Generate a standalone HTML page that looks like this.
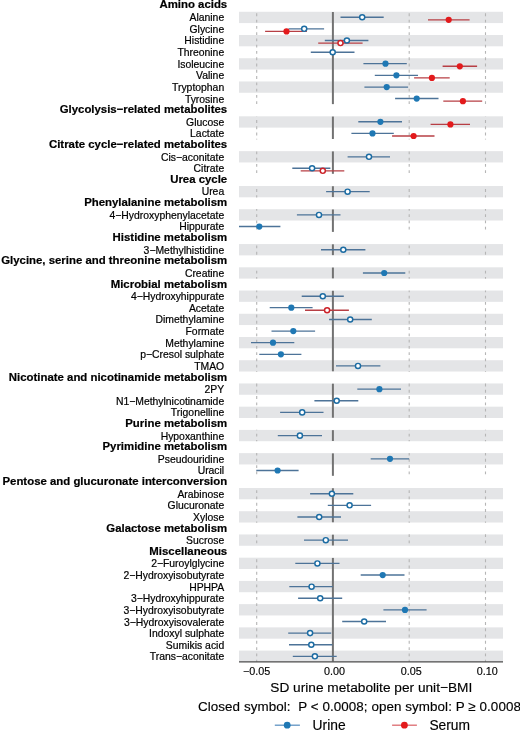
<!DOCTYPE html>
<html><head><meta charset="utf-8"><title>Forest plot</title>
<style>
html,body{margin:0;padding:0;background:#fff;}
svg{display:block;will-change:transform;}
text{font-family:"Liberation Sans",sans-serif;fill:#000;stroke:#000;stroke-width:0.15px;}
.l{font-size:10.4px;text-anchor:end;stroke:#000;stroke-width:0.2px;}
.h{font-size:11.4px;font-weight:bold;text-anchor:end;stroke:#000;stroke-width:0.2px;}
.t{font-size:10.8px;text-anchor:middle;}
.ti{font-size:13.7px;text-anchor:middle;}
.c{font-size:13.4px;letter-spacing:0.075px;}
.lg{font-size:13.8px;}
</style></head>
<body>
<svg width="520" height="730" viewBox="0 0 520 730">
<rect width="520" height="730" fill="#fff"/>
<rect x="239.0" y="11.77" width="264.0" height="11.3" fill="#e4e5e7"/>
<rect x="239.0" y="35.00" width="264.0" height="11.3" fill="#e4e5e7"/>
<rect x="239.0" y="58.23" width="264.0" height="11.3" fill="#e4e5e7"/>
<rect x="239.0" y="81.46" width="264.0" height="11.3" fill="#e4e5e7"/>
<rect x="239.0" y="116.31" width="264.0" height="11.3" fill="#e4e5e7"/>
<rect x="239.0" y="151.15" width="264.0" height="11.3" fill="#e4e5e7"/>
<rect x="239.0" y="186.00" width="264.0" height="11.3" fill="#e4e5e7"/>
<rect x="239.0" y="209.23" width="264.0" height="11.3" fill="#e4e5e7"/>
<rect x="239.0" y="244.07" width="264.0" height="11.3" fill="#e4e5e7"/>
<rect x="239.0" y="267.30" width="264.0" height="11.3" fill="#e4e5e7"/>
<rect x="239.0" y="290.53" width="264.0" height="11.3" fill="#e4e5e7"/>
<rect x="239.0" y="313.76" width="264.0" height="11.3" fill="#e4e5e7"/>
<rect x="239.0" y="336.99" width="264.0" height="11.3" fill="#e4e5e7"/>
<rect x="239.0" y="360.22" width="264.0" height="11.3" fill="#e4e5e7"/>
<rect x="239.0" y="383.45" width="264.0" height="11.3" fill="#e4e5e7"/>
<rect x="239.0" y="406.68" width="264.0" height="11.3" fill="#e4e5e7"/>
<rect x="239.0" y="429.91" width="264.0" height="11.3" fill="#e4e5e7"/>
<rect x="239.0" y="453.14" width="264.0" height="11.3" fill="#e4e5e7"/>
<rect x="239.0" y="487.99" width="264.0" height="11.3" fill="#e4e5e7"/>
<rect x="239.0" y="511.22" width="264.0" height="11.3" fill="#e4e5e7"/>
<rect x="239.0" y="534.45" width="264.0" height="11.3" fill="#e4e5e7"/>
<rect x="239.0" y="557.68" width="264.0" height="11.3" fill="#e4e5e7"/>
<rect x="239.0" y="580.91" width="264.0" height="11.3" fill="#e4e5e7"/>
<rect x="239.0" y="604.14" width="264.0" height="11.3" fill="#e4e5e7"/>
<rect x="239.0" y="627.37" width="264.0" height="11.3" fill="#e4e5e7"/>
<rect x="239.0" y="650.60" width="264.0" height="11.3" fill="#e4e5e7"/>
<line x1="256.7" y1="11.62" x2="256.7" y2="104.53" stroke="#b5b5b5" stroke-width="1.1" stroke-dasharray="2.85 3.425" stroke-dashoffset="10.81"/>
<line x1="409.2" y1="11.62" x2="409.2" y2="104.53" stroke="#b5b5b5" stroke-width="1.1" stroke-dasharray="2.85 3.425" stroke-dashoffset="10.81"/>
<line x1="485.5" y1="11.62" x2="485.5" y2="104.53" stroke="#b5b5b5" stroke-width="1.1" stroke-dasharray="2.85 3.425" stroke-dashoffset="10.81"/>
<line x1="332.9" y1="12.02" x2="332.9" y2="104.13" stroke="#727272" stroke-width="2.0"/>
<line x1="256.7" y1="116.15" x2="256.7" y2="139.38" stroke="#b5b5b5" stroke-width="1.1" stroke-dasharray="2.85 3.425" stroke-dashoffset="115.35"/>
<line x1="409.2" y1="116.15" x2="409.2" y2="139.38" stroke="#b5b5b5" stroke-width="1.1" stroke-dasharray="2.85 3.425" stroke-dashoffset="115.35"/>
<line x1="485.5" y1="116.15" x2="485.5" y2="139.38" stroke="#b5b5b5" stroke-width="1.1" stroke-dasharray="2.85 3.425" stroke-dashoffset="115.35"/>
<line x1="332.9" y1="116.55" x2="332.9" y2="138.98" stroke="#727272" stroke-width="2.0"/>
<line x1="256.7" y1="151.00" x2="256.7" y2="174.22" stroke="#b5b5b5" stroke-width="1.1" stroke-dasharray="2.85 3.425" stroke-dashoffset="150.19"/>
<line x1="409.2" y1="151.00" x2="409.2" y2="174.22" stroke="#b5b5b5" stroke-width="1.1" stroke-dasharray="2.85 3.425" stroke-dashoffset="150.19"/>
<line x1="485.5" y1="151.00" x2="485.5" y2="174.22" stroke="#b5b5b5" stroke-width="1.1" stroke-dasharray="2.85 3.425" stroke-dashoffset="150.19"/>
<line x1="332.9" y1="151.40" x2="332.9" y2="173.82" stroke="#727272" stroke-width="2.0"/>
<line x1="256.7" y1="185.84" x2="256.7" y2="197.46" stroke="#b5b5b5" stroke-width="1.1" stroke-dasharray="2.85 3.425" stroke-dashoffset="185.04"/>
<line x1="409.2" y1="185.84" x2="409.2" y2="197.46" stroke="#b5b5b5" stroke-width="1.1" stroke-dasharray="2.85 3.425" stroke-dashoffset="185.04"/>
<line x1="485.5" y1="185.84" x2="485.5" y2="197.46" stroke="#b5b5b5" stroke-width="1.1" stroke-dasharray="2.85 3.425" stroke-dashoffset="185.04"/>
<line x1="332.9" y1="186.24" x2="332.9" y2="197.06" stroke="#727272" stroke-width="2.0"/>
<line x1="256.7" y1="209.07" x2="256.7" y2="232.30" stroke="#b5b5b5" stroke-width="1.1" stroke-dasharray="2.85 3.425" stroke-dashoffset="208.27"/>
<line x1="409.2" y1="209.07" x2="409.2" y2="232.30" stroke="#b5b5b5" stroke-width="1.1" stroke-dasharray="2.85 3.425" stroke-dashoffset="208.27"/>
<line x1="485.5" y1="209.07" x2="485.5" y2="232.30" stroke="#b5b5b5" stroke-width="1.1" stroke-dasharray="2.85 3.425" stroke-dashoffset="208.27"/>
<line x1="332.9" y1="209.47" x2="332.9" y2="231.90" stroke="#727272" stroke-width="2.0"/>
<line x1="256.7" y1="243.91" x2="256.7" y2="255.53" stroke="#b5b5b5" stroke-width="1.1" stroke-dasharray="2.85 3.425" stroke-dashoffset="243.11"/>
<line x1="409.2" y1="243.91" x2="409.2" y2="255.53" stroke="#b5b5b5" stroke-width="1.1" stroke-dasharray="2.85 3.425" stroke-dashoffset="243.11"/>
<line x1="485.5" y1="243.91" x2="485.5" y2="255.53" stroke="#b5b5b5" stroke-width="1.1" stroke-dasharray="2.85 3.425" stroke-dashoffset="243.11"/>
<line x1="332.9" y1="244.31" x2="332.9" y2="255.13" stroke="#727272" stroke-width="2.0"/>
<line x1="256.7" y1="267.14" x2="256.7" y2="278.76" stroke="#b5b5b5" stroke-width="1.1" stroke-dasharray="2.85 3.425" stroke-dashoffset="266.34"/>
<line x1="409.2" y1="267.14" x2="409.2" y2="278.76" stroke="#b5b5b5" stroke-width="1.1" stroke-dasharray="2.85 3.425" stroke-dashoffset="266.34"/>
<line x1="485.5" y1="267.14" x2="485.5" y2="278.76" stroke="#b5b5b5" stroke-width="1.1" stroke-dasharray="2.85 3.425" stroke-dashoffset="266.34"/>
<line x1="332.9" y1="267.54" x2="332.9" y2="278.36" stroke="#727272" stroke-width="2.0"/>
<line x1="256.7" y1="290.38" x2="256.7" y2="371.68" stroke="#b5b5b5" stroke-width="1.1" stroke-dasharray="2.85 3.425" stroke-dashoffset="289.57"/>
<line x1="409.2" y1="290.38" x2="409.2" y2="371.68" stroke="#b5b5b5" stroke-width="1.1" stroke-dasharray="2.85 3.425" stroke-dashoffset="289.57"/>
<line x1="485.5" y1="290.38" x2="485.5" y2="371.68" stroke="#b5b5b5" stroke-width="1.1" stroke-dasharray="2.85 3.425" stroke-dashoffset="289.57"/>
<line x1="332.9" y1="290.77" x2="332.9" y2="371.28" stroke="#727272" stroke-width="2.0"/>
<line x1="256.7" y1="383.30" x2="256.7" y2="418.14" stroke="#b5b5b5" stroke-width="1.1" stroke-dasharray="2.85 3.425" stroke-dashoffset="382.50"/>
<line x1="409.2" y1="383.30" x2="409.2" y2="418.14" stroke="#b5b5b5" stroke-width="1.1" stroke-dasharray="2.85 3.425" stroke-dashoffset="382.50"/>
<line x1="485.5" y1="383.30" x2="485.5" y2="418.14" stroke="#b5b5b5" stroke-width="1.1" stroke-dasharray="2.85 3.425" stroke-dashoffset="382.50"/>
<line x1="332.9" y1="383.69" x2="332.9" y2="417.74" stroke="#727272" stroke-width="2.0"/>
<line x1="256.7" y1="429.75" x2="256.7" y2="441.37" stroke="#b5b5b5" stroke-width="1.1" stroke-dasharray="2.85 3.425" stroke-dashoffset="428.95"/>
<line x1="409.2" y1="429.75" x2="409.2" y2="441.37" stroke="#b5b5b5" stroke-width="1.1" stroke-dasharray="2.85 3.425" stroke-dashoffset="428.95"/>
<line x1="485.5" y1="429.75" x2="485.5" y2="441.37" stroke="#b5b5b5" stroke-width="1.1" stroke-dasharray="2.85 3.425" stroke-dashoffset="428.95"/>
<line x1="332.9" y1="430.15" x2="332.9" y2="440.97" stroke="#727272" stroke-width="2.0"/>
<line x1="256.7" y1="452.99" x2="256.7" y2="476.22" stroke="#b5b5b5" stroke-width="1.1" stroke-dasharray="2.85 3.425" stroke-dashoffset="452.19"/>
<line x1="409.2" y1="452.99" x2="409.2" y2="476.22" stroke="#b5b5b5" stroke-width="1.1" stroke-dasharray="2.85 3.425" stroke-dashoffset="452.19"/>
<line x1="485.5" y1="452.99" x2="485.5" y2="476.22" stroke="#b5b5b5" stroke-width="1.1" stroke-dasharray="2.85 3.425" stroke-dashoffset="452.19"/>
<line x1="332.9" y1="453.38" x2="332.9" y2="475.82" stroke="#727272" stroke-width="2.0"/>
<line x1="256.7" y1="487.83" x2="256.7" y2="522.67" stroke="#b5b5b5" stroke-width="1.1" stroke-dasharray="2.85 3.425" stroke-dashoffset="487.03"/>
<line x1="409.2" y1="487.83" x2="409.2" y2="522.67" stroke="#b5b5b5" stroke-width="1.1" stroke-dasharray="2.85 3.425" stroke-dashoffset="487.03"/>
<line x1="485.5" y1="487.83" x2="485.5" y2="522.67" stroke="#b5b5b5" stroke-width="1.1" stroke-dasharray="2.85 3.425" stroke-dashoffset="487.03"/>
<line x1="332.9" y1="488.23" x2="332.9" y2="522.27" stroke="#727272" stroke-width="2.0"/>
<line x1="256.7" y1="534.29" x2="256.7" y2="545.90" stroke="#b5b5b5" stroke-width="1.1" stroke-dasharray="2.85 3.425" stroke-dashoffset="533.49"/>
<line x1="409.2" y1="534.29" x2="409.2" y2="545.90" stroke="#b5b5b5" stroke-width="1.1" stroke-dasharray="2.85 3.425" stroke-dashoffset="533.49"/>
<line x1="485.5" y1="534.29" x2="485.5" y2="545.90" stroke="#b5b5b5" stroke-width="1.1" stroke-dasharray="2.85 3.425" stroke-dashoffset="533.49"/>
<line x1="332.9" y1="534.69" x2="332.9" y2="545.50" stroke="#727272" stroke-width="2.0"/>
<line x1="256.7" y1="557.52" x2="256.7" y2="662.06" stroke="#b5b5b5" stroke-width="1.1" stroke-dasharray="2.85 3.425" stroke-dashoffset="556.72"/>
<line x1="409.2" y1="557.52" x2="409.2" y2="662.06" stroke="#b5b5b5" stroke-width="1.1" stroke-dasharray="2.85 3.425" stroke-dashoffset="556.72"/>
<line x1="485.5" y1="557.52" x2="485.5" y2="662.06" stroke="#b5b5b5" stroke-width="1.1" stroke-dasharray="2.85 3.425" stroke-dashoffset="556.72"/>
<line x1="332.9" y1="557.92" x2="332.9" y2="661.66" stroke="#727272" stroke-width="2.0"/>
<line x1="340.5" y1="17.22" x2="383.7" y2="17.22" stroke="#4d7398" stroke-width="1.35"/>
<line x1="428.0" y1="19.82" x2="469.6" y2="19.82" stroke="#b73f45" stroke-width="1.35"/>
<line x1="288.5" y1="28.84" x2="324.1" y2="28.84" stroke="#4d7398" stroke-width="1.35"/>
<line x1="265.1" y1="31.44" x2="306.9" y2="31.44" stroke="#b73f45" stroke-width="1.35"/>
<line x1="324.8" y1="40.46" x2="368.4" y2="40.46" stroke="#4d7398" stroke-width="1.35"/>
<line x1="318.2" y1="43.06" x2="362.6" y2="43.06" stroke="#b73f45" stroke-width="1.35"/>
<line x1="310.8" y1="52.27" x2="354.5" y2="52.27" stroke="#4d7398" stroke-width="1.35"/>
<line x1="363.4" y1="63.69" x2="406.8" y2="63.69" stroke="#4d7398" stroke-width="1.35"/>
<line x1="442.6" y1="66.29" x2="477.1" y2="66.29" stroke="#b73f45" stroke-width="1.35"/>
<line x1="374.8" y1="75.31" x2="418.0" y2="75.31" stroke="#4d7398" stroke-width="1.35"/>
<line x1="414.1" y1="77.91" x2="449.7" y2="77.91" stroke="#b73f45" stroke-width="1.35"/>
<line x1="364.4" y1="87.12" x2="408.1" y2="87.12" stroke="#4d7398" stroke-width="1.35"/>
<line x1="395.1" y1="98.54" x2="438.5" y2="98.54" stroke="#4d7398" stroke-width="1.35"/>
<line x1="443.3" y1="101.14" x2="482.2" y2="101.14" stroke="#b73f45" stroke-width="1.35"/>
<line x1="358.3" y1="121.78" x2="402.0" y2="121.78" stroke="#4d7398" stroke-width="1.35"/>
<line x1="430.6" y1="124.38" x2="470.0" y2="124.38" stroke="#b73f45" stroke-width="1.35"/>
<line x1="351.4" y1="133.39" x2="393.8" y2="133.39" stroke="#4d7398" stroke-width="1.35"/>
<line x1="392.1" y1="135.99" x2="434.5" y2="135.99" stroke="#b73f45" stroke-width="1.35"/>
<line x1="347.6" y1="156.83" x2="390.0" y2="156.83" stroke="#4d7398" stroke-width="1.35"/>
<line x1="292.3" y1="168.24" x2="330.4" y2="168.24" stroke="#4d7398" stroke-width="1.35"/>
<line x1="300.7" y1="170.84" x2="344.3" y2="170.84" stroke="#b73f45" stroke-width="1.35"/>
<line x1="326.1" y1="191.68" x2="369.7" y2="191.68" stroke="#4d7398" stroke-width="1.35"/>
<line x1="296.9" y1="214.91" x2="340.5" y2="214.91" stroke="#4d7398" stroke-width="1.35"/>
<line x1="239.0" y1="226.53" x2="280.4" y2="226.53" stroke="#4d7398" stroke-width="1.35"/>
<line x1="321.0" y1="249.76" x2="365.4" y2="249.76" stroke="#4d7398" stroke-width="1.35"/>
<line x1="362.9" y1="272.99" x2="405.3" y2="272.99" stroke="#4d7398" stroke-width="1.35"/>
<line x1="301.7" y1="296.23" x2="343.8" y2="296.23" stroke="#4d7398" stroke-width="1.35"/>
<line x1="269.7" y1="307.64" x2="312.6" y2="307.64" stroke="#4d7398" stroke-width="1.35"/>
<line x1="305.0" y1="310.24" x2="348.9" y2="310.24" stroke="#b73f45" stroke-width="1.35"/>
<line x1="329.1" y1="319.46" x2="371.8" y2="319.46" stroke="#4d7398" stroke-width="1.35"/>
<line x1="271.5" y1="331.08" x2="315.1" y2="331.08" stroke="#4d7398" stroke-width="1.35"/>
<line x1="251.0" y1="342.69" x2="294.3" y2="342.69" stroke="#4d7398" stroke-width="1.35"/>
<line x1="259.3" y1="354.31" x2="301.4" y2="354.31" stroke="#4d7398" stroke-width="1.35"/>
<line x1="336.0" y1="365.93" x2="380.4" y2="365.93" stroke="#4d7398" stroke-width="1.35"/>
<line x1="357.3" y1="389.16" x2="401.0" y2="389.16" stroke="#4d7398" stroke-width="1.35"/>
<line x1="314.4" y1="400.78" x2="358.3" y2="400.78" stroke="#4d7398" stroke-width="1.35"/>
<line x1="280.1" y1="412.39" x2="323.5" y2="412.39" stroke="#4d7398" stroke-width="1.35"/>
<line x1="277.8" y1="435.63" x2="322.0" y2="435.63" stroke="#4d7398" stroke-width="1.35"/>
<line x1="370.7" y1="458.86" x2="409.1" y2="458.86" stroke="#4d7398" stroke-width="1.35"/>
<line x1="256.3" y1="470.48" x2="298.6" y2="470.48" stroke="#4d7398" stroke-width="1.35"/>
<line x1="310.1" y1="493.71" x2="353.3" y2="493.71" stroke="#4d7398" stroke-width="1.35"/>
<line x1="327.8" y1="505.33" x2="371.1" y2="505.33" stroke="#4d7398" stroke-width="1.35"/>
<line x1="297.4" y1="516.95" x2="341.0" y2="516.95" stroke="#4d7398" stroke-width="1.35"/>
<line x1="304.0" y1="540.18" x2="348.0" y2="540.18" stroke="#4d7398" stroke-width="1.35"/>
<line x1="295.3" y1="563.41" x2="339.5" y2="563.41" stroke="#4d7398" stroke-width="1.35"/>
<line x1="360.7" y1="575.03" x2="404.5" y2="575.03" stroke="#4d7398" stroke-width="1.35"/>
<line x1="289.3" y1="586.65" x2="332.9" y2="586.65" stroke="#4d7398" stroke-width="1.35"/>
<line x1="298.1" y1="598.26" x2="342.2" y2="598.26" stroke="#4d7398" stroke-width="1.35"/>
<line x1="383.4" y1="609.88" x2="426.6" y2="609.88" stroke="#4d7398" stroke-width="1.35"/>
<line x1="342.2" y1="621.50" x2="386.0" y2="621.50" stroke="#4d7398" stroke-width="1.35"/>
<line x1="288.2" y1="633.11" x2="331.2" y2="633.11" stroke="#4d7398" stroke-width="1.35"/>
<line x1="289.0" y1="644.73" x2="332.4" y2="644.73" stroke="#4d7398" stroke-width="1.35"/>
<line x1="292.8" y1="656.35" x2="336.7" y2="656.35" stroke="#4d7398" stroke-width="1.35"/>
<circle cx="362.2" cy="17.22" r="2.55" fill="#fff" stroke="#1c6ca3" stroke-width="1.45"/>
<circle cx="448.7" cy="19.82" r="3.1" fill="#e31a1c"/>
<circle cx="304.2" cy="28.84" r="2.55" fill="#fff" stroke="#1c6ca3" stroke-width="1.45"/>
<circle cx="286.5" cy="31.44" r="3.1" fill="#e31a1c"/>
<circle cx="346.9" cy="40.46" r="2.55" fill="#fff" stroke="#1c6ca3" stroke-width="1.45"/>
<circle cx="340.5" cy="43.06" r="2.55" fill="#fff" stroke="#cc2229" stroke-width="1.45"/>
<circle cx="332.7" cy="52.27" r="2.55" fill="#fff" stroke="#1c6ca3" stroke-width="1.45"/>
<circle cx="385.5" cy="63.69" r="3.1" fill="#1f78b4"/>
<circle cx="459.8" cy="66.29" r="3.1" fill="#e31a1c"/>
<circle cx="396.4" cy="75.31" r="3.1" fill="#1f78b4"/>
<circle cx="431.9" cy="77.91" r="3.1" fill="#e31a1c"/>
<circle cx="386.7" cy="87.12" r="3.1" fill="#1f78b4"/>
<circle cx="416.7" cy="98.54" r="3.1" fill="#1f78b4"/>
<circle cx="462.9" cy="101.14" r="3.1" fill="#e31a1c"/>
<circle cx="380.4" cy="121.78" r="3.1" fill="#1f78b4"/>
<circle cx="450.4" cy="124.38" r="3.1" fill="#e31a1c"/>
<circle cx="372.5" cy="133.39" r="3.1" fill="#1f78b4"/>
<circle cx="413.6" cy="135.99" r="3.1" fill="#e31a1c"/>
<circle cx="369.0" cy="156.83" r="2.55" fill="#fff" stroke="#1c6ca3" stroke-width="1.45"/>
<circle cx="312.1" cy="168.24" r="2.55" fill="#fff" stroke="#1c6ca3" stroke-width="1.45"/>
<circle cx="322.8" cy="170.84" r="2.55" fill="#fff" stroke="#cc2229" stroke-width="1.45"/>
<circle cx="347.6" cy="191.68" r="2.55" fill="#fff" stroke="#1c6ca3" stroke-width="1.45"/>
<circle cx="319.0" cy="214.91" r="2.55" fill="#fff" stroke="#1c6ca3" stroke-width="1.45"/>
<circle cx="259.3" cy="226.53" r="3.1" fill="#1f78b4"/>
<circle cx="343.3" cy="249.76" r="2.55" fill="#fff" stroke="#1c6ca3" stroke-width="1.45"/>
<circle cx="384.2" cy="272.99" r="3.1" fill="#1f78b4"/>
<circle cx="322.8" cy="296.23" r="2.55" fill="#fff" stroke="#1c6ca3" stroke-width="1.45"/>
<circle cx="291.3" cy="307.64" r="3.1" fill="#1f78b4"/>
<circle cx="327.1" cy="310.24" r="2.55" fill="#fff" stroke="#cc2229" stroke-width="1.45"/>
<circle cx="350.2" cy="319.46" r="2.55" fill="#fff" stroke="#1c6ca3" stroke-width="1.45"/>
<circle cx="293.3" cy="331.08" r="3.1" fill="#1f78b4"/>
<circle cx="273.0" cy="342.69" r="3.1" fill="#1f78b4"/>
<circle cx="280.9" cy="354.31" r="3.1" fill="#1f78b4"/>
<circle cx="358.0" cy="365.93" r="2.55" fill="#fff" stroke="#1c6ca3" stroke-width="1.45"/>
<circle cx="379.4" cy="389.16" r="3.1" fill="#1f78b4"/>
<circle cx="336.7" cy="400.78" r="2.55" fill="#fff" stroke="#1c6ca3" stroke-width="1.45"/>
<circle cx="302.2" cy="412.39" r="2.55" fill="#fff" stroke="#1c6ca3" stroke-width="1.45"/>
<circle cx="299.9" cy="435.63" r="2.55" fill="#fff" stroke="#1c6ca3" stroke-width="1.45"/>
<circle cx="390.0" cy="458.86" r="3.1" fill="#1f78b4"/>
<circle cx="277.6" cy="470.48" r="3.1" fill="#1f78b4"/>
<circle cx="331.9" cy="493.71" r="2.55" fill="#fff" stroke="#1c6ca3" stroke-width="1.45"/>
<circle cx="349.6" cy="505.33" r="2.55" fill="#fff" stroke="#1c6ca3" stroke-width="1.45"/>
<circle cx="319.2" cy="516.95" r="2.55" fill="#fff" stroke="#1c6ca3" stroke-width="1.45"/>
<circle cx="325.8" cy="540.18" r="2.55" fill="#fff" stroke="#1c6ca3" stroke-width="1.45"/>
<circle cx="317.4" cy="563.41" r="2.55" fill="#fff" stroke="#1c6ca3" stroke-width="1.45"/>
<circle cx="382.7" cy="575.03" r="3.1" fill="#1f78b4"/>
<circle cx="311.6" cy="586.65" r="2.55" fill="#fff" stroke="#1c6ca3" stroke-width="1.45"/>
<circle cx="320.2" cy="598.26" r="2.55" fill="#fff" stroke="#1c6ca3" stroke-width="1.45"/>
<circle cx="405.0" cy="609.88" r="3.1" fill="#1f78b4"/>
<circle cx="364.2" cy="621.50" r="2.55" fill="#fff" stroke="#1c6ca3" stroke-width="1.45"/>
<circle cx="310.1" cy="633.11" r="2.55" fill="#fff" stroke="#1c6ca3" stroke-width="1.45"/>
<circle cx="311.3" cy="644.73" r="2.55" fill="#fff" stroke="#1c6ca3" stroke-width="1.45"/>
<circle cx="314.9" cy="656.35" r="2.55" fill="#fff" stroke="#1c6ca3" stroke-width="1.45"/>
<text x="227.2" y="7.81" class="h">Amino acids</text>
<text x="224.2" y="21.13" class="l">Alanine</text>
<text x="224.2" y="32.76" class="l">Glycine</text>
<text x="224.2" y="44.38" class="l">Histidine</text>
<text x="224.2" y="56.00" class="l">Threonine</text>
<text x="224.2" y="67.63" class="l">Isoleucine</text>
<text x="224.2" y="79.25" class="l">Valine</text>
<text x="224.2" y="90.88" class="l">Tryptophan</text>
<text x="224.2" y="102.50" class="l">Tyrosine</text>
<text x="227.2" y="113.22" class="h">Glycolysis−related metabolites</text>
<text x="224.2" y="125.75" class="l">Glucose</text>
<text x="224.2" y="137.37" class="l">Lactate</text>
<text x="227.2" y="148.09" class="h">Citrate cycle−related metabolites</text>
<text x="224.2" y="160.62" class="l">Cis−aconitate</text>
<text x="224.2" y="172.24" class="l">Citrate</text>
<text x="227.2" y="182.97" class="h">Urea cycle</text>
<text x="224.2" y="195.49" class="l">Urea</text>
<text x="227.2" y="206.21" class="h">Phenylalanine metabolism</text>
<text x="224.2" y="218.74" class="l">4−Hydroxyphenylacetate</text>
<text x="224.2" y="230.36" class="l">Hippurate</text>
<text x="227.2" y="241.09" class="h">Histidine metabolism</text>
<text x="224.2" y="253.61" class="l">3−Methylhistidine</text>
<text x="227.2" y="264.33" class="h">Glycine, serine and threonine metabolism</text>
<text x="224.2" y="276.86" class="l">Creatine</text>
<text x="227.2" y="287.58" class="h">Microbial metabolism</text>
<text x="224.2" y="300.11" class="l">4−Hydroxyhippurate</text>
<text x="224.2" y="311.73" class="l">Acetate</text>
<text x="224.2" y="323.35" class="l">Dimethylamine</text>
<text x="224.2" y="334.98" class="l">Formate</text>
<text x="224.2" y="346.60" class="l">Methylamine</text>
<text x="224.2" y="358.23" class="l">p−Cresol sulphate</text>
<text x="224.2" y="369.85" class="l">TMAO</text>
<text x="227.2" y="380.57" class="h">Nicotinate and nicotinamide metabolism</text>
<text x="224.2" y="393.10" class="l">2PY</text>
<text x="224.2" y="404.72" class="l">N1−Methylnicotinamide</text>
<text x="224.2" y="416.34" class="l">Trigonelline</text>
<text x="227.2" y="427.07" class="h">Purine metabolism</text>
<text x="224.2" y="439.59" class="l">Hypoxanthine</text>
<text x="227.2" y="450.32" class="h">Pyrimidine metabolism</text>
<text x="224.2" y="462.84" class="l">Pseudouridine</text>
<text x="224.2" y="474.46" class="l">Uracil</text>
<text x="227.2" y="485.19" class="h">Pentose and glucuronate interconversion</text>
<text x="224.2" y="497.71" class="l">Arabinose</text>
<text x="224.2" y="509.34" class="l">Glucuronate</text>
<text x="224.2" y="520.96" class="l">Xylose</text>
<text x="227.2" y="531.68" class="h">Galactose metabolism</text>
<text x="224.2" y="544.21" class="l">Sucrose</text>
<text x="227.2" y="554.93" class="h">Miscellaneous</text>
<text x="224.2" y="567.46" class="l">2−Furoylglycine</text>
<text x="224.2" y="579.08" class="l">2−Hydroxyisobutyrate</text>
<text x="224.2" y="590.70" class="l">HPHPA</text>
<text x="224.2" y="602.33" class="l">3−Hydroxyhippurate</text>
<text x="224.2" y="613.95" class="l">3−Hydroxyisobutyrate</text>
<text x="224.2" y="625.58" class="l">3−Hydroxyisovalerate</text>
<text x="224.2" y="637.20" class="l">Indoxyl sulphate</text>
<text x="224.2" y="648.82" class="l">Sumikis acid</text>
<text x="224.2" y="660.45" class="l">Trans−aconitate</text>
<line x1="239.0" y1="661.85" x2="503.0" y2="661.85" stroke="#4d4d4d" stroke-width="1.1"/>
<text x="256.60" y="674.6" class="t">−0.05</text>
<text x="334.40" y="674.6" class="t">0.00</text>
<text x="411.20" y="674.6" class="t">0.05</text>
<text x="487.20" y="674.6" class="t">0.10</text>
<text x="371.3" y="692.3" class="ti">SD urine metabolite per unit−BMI</text>
<text x="198.0" y="711.4" class="c" xml:space="preserve" style="white-space:pre">Closed symbol:  P &lt; 0.0008; open symbol: P ≥ 0.0008</text>
<line x1="274.8" y1="725.2" x2="299.9" y2="725.2" stroke="#5f93c2" stroke-width="1.3"/>
<circle cx="287.2" cy="725.2" r="3.4" fill="#1f78b4"/>
<text x="312.6" y="730.00" class="lg">Urine</text>
<line x1="392.1" y1="725.2" x2="416.9" y2="725.2" stroke="#dc6a6e" stroke-width="1.3"/>
<circle cx="404.4" cy="725.2" r="3.4" fill="#e31a1c"/>
<text x="429.4" y="730.00" class="lg">Serum</text>
</svg>
</body></html>
